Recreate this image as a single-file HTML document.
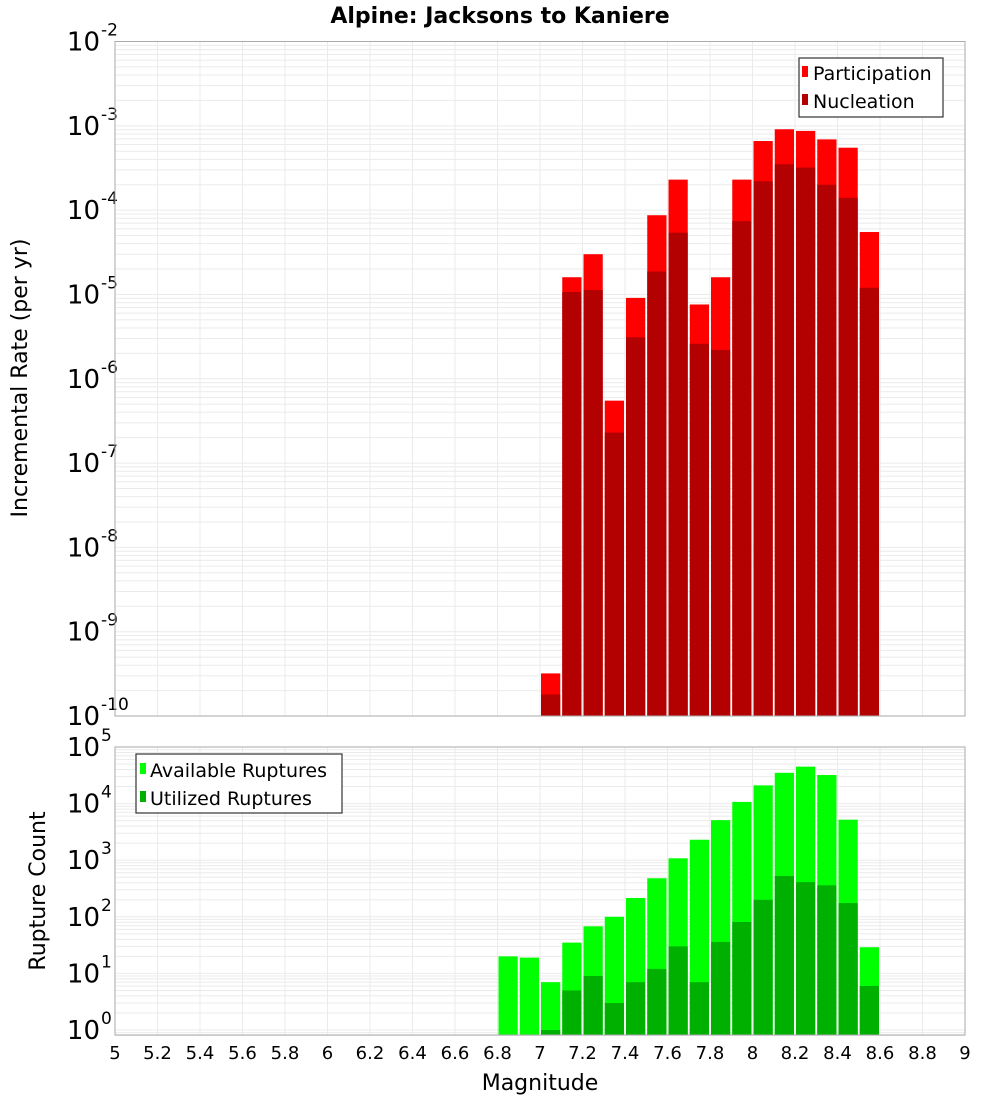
<!DOCTYPE html>
<html><head><meta charset="utf-8"><style>
body{margin:0;background:#fff;}
svg text{font-family:"DejaVu Sans","Liberation Sans",sans-serif;}
</style></head><body>
<svg id="chart" width="1000" height="1100" xmlns="http://www.w3.org/2000/svg">
<rect width="1000" height="1100" fill="#fff"/>
<text x="500" y="23" text-anchor="middle" font-size="22" font-weight="bold">Alpine: Jacksons to Kaniere</text>
<g id="top"></g>
<g id="bot"></g>
<text transform="translate(27,378) rotate(-90)" text-anchor="middle" font-size="22">Incremental Rate (per yr)</text>
<text transform="translate(45,891) rotate(-90)" text-anchor="middle" font-size="22">Rupture Count</text>
<text x="540" y="1090" text-anchor="middle" font-size="22">Magnitude</text>
<g>
<rect x="799" y="58" width="144" height="59" fill="#fff" stroke="#333" stroke-width="1.2"/>
<rect x="802" y="66" width="6" height="11" fill="#ff0000"/>
<text x="813" y="80" font-size="19">Participation</text>
<rect x="802" y="94" width="6" height="11" fill="#b30000"/>
<text x="813" y="108" font-size="19">Nucleation</text>
</g>
<g>
<rect x="136" y="754" width="206" height="59" fill="#fff" stroke="#333" stroke-width="1.2"/>
<rect x="140" y="763" width="6" height="11" fill="#00ff00"/>
<text x="150" y="777" font-size="19">Available Ruptures</text>
<rect x="140" y="791" width="6" height="11" fill="#00b000"/>
<text x="150" y="805" font-size="19">Utilized Ruptures</text>
</g>
</svg>
<script>
const mags=[7.05,7.15,7.25,7.35,7.45,7.55,7.65,7.75,7.85,7.95,8.05,8.15,8.25,8.35,8.45,8.55];
const participation=[3.2e-10,1.6e-5,3.0e-5,5.5e-7,9.1e-6,8.7e-5,2.3e-4,7.6e-6,1.6e-5,2.3e-4,6.6e-4,9.1e-4,8.7e-4,6.9e-4,5.5e-4,5.5e-5];
const nucleation=[1.8e-10,1.07e-5,1.13e-5,2.3e-7,3.1e-6,1.87e-5,5.4e-5,2.6e-6,2.2e-6,7.4e-5,2.2e-4,3.5e-4,3.2e-4,2.0e-4,1.4e-4,1.2e-5];
const countMags=[6.85,6.95,7.05,7.15,7.25,7.35,7.45,7.55,7.65,7.75,7.85,7.95,8.05,8.15,8.25,8.35,8.45,8.55];
const available=[20,19,7,35,68,100,215,480,1080,2300,5100,10700,21000,35000,45000,32000,5200,29];
const utilized=[0,0,1,5,9,3,7,12,30,7,36,81,200,525,410,360,175,6];
const xTicks=[5,5.2,5.4,5.6,5.8,6,6.2,6.4,6.6,6.8,7,7.2,7.4,7.6,7.8,8,8.2,8.4,8.6,8.8,9];
const topExps=[-10,-9,-8,-7,-6,-5,-4,-3,-2];
const botExps=[0,1,2,3,4,5];

const NS="http://www.w3.org/2000/svg";
const L=115,R=965;
const xs=m=>L+(m-5)/4*(R-L);
function el(tag,attrs,parent){const e=document.createElementNS(NS,tag);for(const k in attrs)e.setAttribute(k,attrs[k]);parent.appendChild(e);return e;}
function panel(g,top,bottom,yOf,minExp,maxExp,exps,lowV){
  // minor/major grid
  for(let e=minExp-1;e<=maxExp;e++){for(let k=1;k<10;k++){const v=k*Math.pow(10,e);const y=yOf(v);if(y<top-0.5||y>bottom+0.5)continue;
    const ln=el('line',{x1:L,x2:R,y1:y,y2:y,stroke:'#ebebeb','stroke-width':1},g);
    
    }}
  xTicks.forEach(t=>{const x=xs(t);const ln=el('line',{x1:x,x2:x,y1:top,y2:bottom,stroke:'#ebebeb','stroke-width':1},g);
    
    });
  exps.forEach(e=>{const y=yOf(Math.pow(10,e));const t=el('text',{x:100,y:y+9,'text-anchor':'end','font-size':26},g);t.textContent='10';
    
    
    const s=el('text',{x:101,y:y-6,'font-size':17},g);s.textContent=String(e);
    
    });
}
// top panel
const tTop=41.5,tBot=716,tDec=(tBot-tTop)/8;
const yT=v=>tTop+(-2-Math.log10(v))*tDec;
const gt=document.getElementById('top');
panel(gt,tTop,tBot,yT,-10,-2,topExps);
function bars(g,ms,vals,yOf,base,color,name){ms.forEach((m,i)=>{if(!(vals[i]>0))return;const x0=xs(m-0.05)+1,x1=xs(m+0.05)-1;const y=Math.max(yOf(vals[i]),0);
  const r=el('rect',{x:x0,y:y,width:x1-x0,height:base-y,fill:color},g);
  
  });}
bars(gt,mags,participation,yT,tBot,'#ff0000','participation');
bars(gt,mags,nucleation,yT,tBot,'#b30000','nucleation');
el('rect',{x:L,y:tTop,width:R-L,height:tBot-tTop,fill:'none',stroke:'#aaa','stroke-width':1},gt);
// bottom panel
const bTop=747,bBot=1035,bDec=56.6;
const yB=v=>bTop+(5-Math.log10(v))*bDec;
const gb=document.getElementById('bot');
panel(gb,bTop,bBot,yB,0,5,botExps);
bars(gb,countMags,available,yB,bBot,'#00ff00','available');
bars(gb,countMags,utilized,yB,bBot,'#00b000','utilized');
el('rect',{x:L,y:bTop,width:R-L,height:bBot-bTop,fill:'none',stroke:'#aaa','stroke-width':1},gb);
xTicks.forEach(t=>{const tx=el('text',{x:xs(t),y:1059,'text-anchor':'middle','font-size':18},gb);tx.textContent=String(t);
  
  });
</script>
</body></html>
